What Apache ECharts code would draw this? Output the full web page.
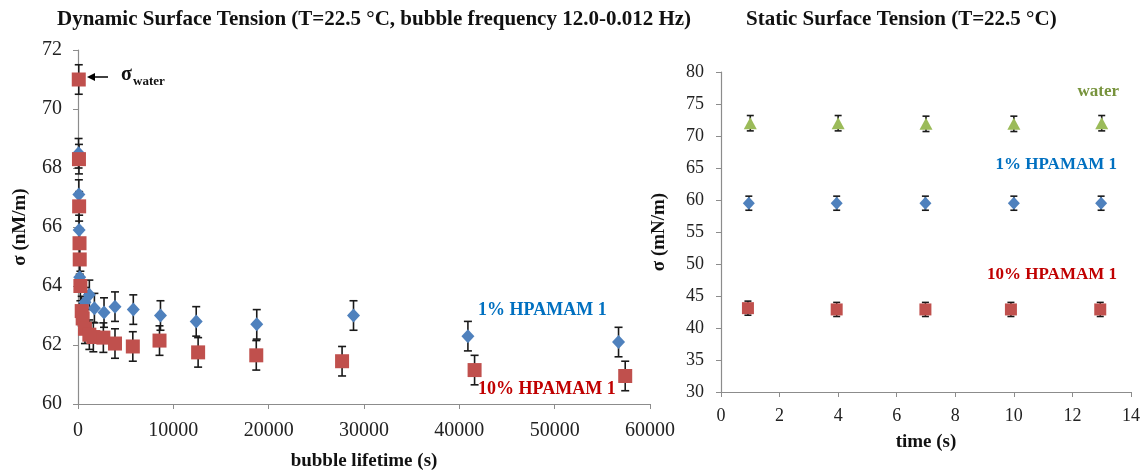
<!DOCTYPE html>
<html><head><meta charset="utf-8">
<script src="https://cdn.jsdelivr.net/npm/echarts@6/dist/echarts.min.js"></script>
<style>html,body{margin:0;padding:0;background:#fff}#c{width:1145px;height:472px}</style>
</head><body><div id="c"></div>
<script>
// Dynamic surface tension (left)
const dynXTicks = [0, 10000, 20000, 30000, 40000, 50000, 60000];
const dynYTicks = [60, 62, 64, 66, 68, 70, 72];
const hp1Lifetime = [60, 90, 120, 180, 730, 1190, 1720, 2730, 3880, 5800, 8650, 12400, 18750, 28900, 40900, 56700];
const hp1Sigma    = [68.5, 67.1, 65.9, 64.3, 63.45, 63.7, 63.25, 63.1, 63.3, 63.2, 63.0, 62.8, 62.7, 63.0, 62.3, 62.1];
const hp1Err      = [0.5, 0.5, 0.5, 0.5, 0.5, 0.5, 0.5, 0.5, 0.5, 0.5, 0.5, 0.5, 0.5, 0.5, 0.5, 0.5];
const hp10Lifetime = [80, 100, 120, 160, 180, 250, 390, 490, 730, 1190, 1610, 2660, 3880, 5750, 8550, 12600, 18700, 27700, 41600, 57400];
const hp10Sigma    = [71.0, 68.3, 66.7, 65.45, 64.9, 64.0, 63.15, 62.9, 62.55, 62.35, 62.27, 62.25, 62.05, 61.95, 62.15, 61.75, 61.65, 61.45, 61.15, 60.95];
const hp10Err      = [0.5, 0.5, 0.5, 0.5, 0.5, 0.5, 0.5, 0.5, 0.5, 0.5, 0.5, 0.5, 0.5, 0.5, 0.5, 0.5, 0.5, 0.5, 0.5, 0.5];

// Static surface tension (right)
const statXTicks = [0, 2, 4, 6, 8, 10, 12, 14];
const statYTicks = [30, 35, 40, 45, 50, 55, 60, 65, 70, 75, 80];
const waterTime = [1, 4, 7, 10, 13];
const waterSigma = [72.0, 72.0, 71.9, 71.9, 72.0];
const waterErr = [1.2, 1.2, 1.2, 1.2, 1.2];
const s1Time = [0.95, 3.95, 6.98, 10.0, 12.98];
const s1Sigma = [59.5, 59.5, 59.5, 59.5, 59.5];
const s1Err = [1.1, 1.1, 1.1, 1.1, 1.1];
const s10Time = [0.92, 3.95, 6.98, 9.9, 12.95];
const s10Sigma = [43.1, 42.9, 42.9, 42.9, 42.9];
const s10Err = [1.1, 1.1, 1.1, 1.1, 1.1];

const SERIF = '"Liberation Serif", "Times New Roman", serif';
const AXC = '#8c8c8c';

function rows(xs, ys, es) { return xs.map((x, i) => es ? [x, ys[i], es[i]] : [x, ys[i]]); }

function errRender(cap) {
  return function (params, api) {
    const x = api.value(0), y = api.value(1), e = api.value(2);
    const a = api.coord([x, y - e]), b = api.coord([x, y + e]);
    const st = { stroke: '#1a1a1a', lineWidth: 1.6 };
    return { type: 'group', children: [
      { type: 'line', shape: { x1: a[0], y1: a[1], x2: b[0], y2: b[1] }, style: st },
      { type: 'line', shape: { x1: a[0] - cap, y1: a[1], x2: a[0] + cap, y2: a[1] }, style: st },
      { type: 'line', shape: { x1: b[0] - cap, y1: b[1], x2: b[0] + cap, y2: b[1] }, style: st }
    ]};
  };
}

function axisCommon() {
  return {
    axisLine: { show: true, lineStyle: { color: AXC, width: 1.2 } },
    axisTick: { show: true, inside: false, length: 5, lineStyle: { color: AXC } },
    splitLine: { show: false },
    nameTextStyle: { color: '#111', fontFamily: SERIF, fontWeight: 'bold', fontSize: 19 }
  };
}

const chart = echarts.init(document.getElementById('c'), null, { renderer: 'canvas' });
const option = {
  animation: false,
  backgroundColor: '#fff',
  grid: [
    { left: 78, top: 50, width: 572, height: 354, outerBoundsMode: 'none', containLabel: false },
    { left: 721, top: 72, width: 410, height: 320, outerBoundsMode: 'none', containLabel: false }
  ],
  xAxis: [
    Object.assign(axisCommon(), { gridIndex: 0, type: 'value', min: dynXTicks[0], max: dynXTicks[dynXTicks.length - 1], interval: dynXTicks[1] - dynXTicks[0],
      name: 'bubble lifetime (s)', nameLocation: 'middle', nameGap: 48,
      axisLabel: { color: '#222', fontFamily: SERIF, fontSize: 20, margin: 17, formatter: v => String(v) } }),
    Object.assign(axisCommon(), { gridIndex: 1, type: 'value', min: statXTicks[0], max: statXTicks[statXTicks.length - 1], interval: statXTicks[1] - statXTicks[0],
      name: 'time (s)', nameLocation: 'middle', nameGap: 41,
      axisLabel: { color: '#222', fontFamily: SERIF, fontSize: 18, margin: 15, formatter: v => String(v) } })
  ],
  yAxis: [
    Object.assign(axisCommon(), { gridIndex: 0, type: 'value', min: dynYTicks[0], max: dynYTicks[dynYTicks.length - 1], interval: dynYTicks[1] - dynYTicks[0],
      name: 'σ (nM/m)', nameLocation: 'middle', nameGap: 48, nameRotate: 90,
      axisLabel: { color: '#222', fontFamily: SERIF, fontSize: 20, margin: 16 } }),
    Object.assign(axisCommon(), { gridIndex: 1, type: 'value', min: statYTicks[0], max: statYTicks[statYTicks.length - 1], interval: statYTicks[1] - statYTicks[0],
      name: 'σ (mN/m)', nameLocation: 'middle', nameGap: 52, nameRotate: 90,
      axisLabel: { color: '#222', fontFamily: SERIF, fontSize: 18, margin: 17 } })
  ],
  series: [
    { type: 'custom', xAxisIndex: 0, yAxisIndex: 0, renderItem: errRender(4), encode: { x: 0, y: 1 }, data: rows(hp1Lifetime, hp1Sigma, hp1Err), z: 2 },
    { type: 'custom', xAxisIndex: 0, yAxisIndex: 0, renderItem: errRender(4), encode: { x: 0, y: 1 }, data: rows(hp10Lifetime, hp10Sigma, hp10Err), z: 2 },
    { type: 'scatter', name: '1% HPAMAM 1', xAxisIndex: 0, yAxisIndex: 0, symbol: 'diamond', symbolSize: [13, 14], itemStyle: { color: '#4F81BD', opacity: 1 }, data: rows(hp1Lifetime, hp1Sigma), z: 3 },
    { type: 'scatter', name: '10% HPAMAM 1', xAxisIndex: 0, yAxisIndex: 0, symbol: 'rect', symbolSize: 14, itemStyle: { color: '#C0504D', opacity: 1 }, data: rows(hp10Lifetime, hp10Sigma), z: 4 },

    { type: 'custom', xAxisIndex: 1, yAxisIndex: 1, renderItem: errRender(3.5), encode: { x: 0, y: 1 }, data: rows(waterTime, waterSigma, waterErr), z: 2 },
    { type: 'custom', xAxisIndex: 1, yAxisIndex: 1, renderItem: errRender(3.5), encode: { x: 0, y: 1 }, data: rows(s1Time, s1Sigma, s1Err), z: 2 },
    { type: 'custom', xAxisIndex: 1, yAxisIndex: 1, renderItem: errRender(3.5), encode: { x: 0, y: 1 }, data: rows(s10Time, s10Sigma, s10Err), z: 2 },
    { type: 'scatter', name: 'water', xAxisIndex: 1, yAxisIndex: 1, symbol: 'triangle', symbolSize: [13, 12], itemStyle: { color: '#9BBB59', opacity: 1 }, data: rows(waterTime, waterSigma), z: 3 },
    { type: 'scatter', name: '1% static', xAxisIndex: 1, yAxisIndex: 1, symbol: 'diamond', symbolSize: [12, 13], itemStyle: { color: '#4F81BD', opacity: 1 }, data: rows(s1Time, s1Sigma), z: 3 },
    { type: 'scatter', name: '10% static', xAxisIndex: 1, yAxisIndex: 1, symbol: 'rect', symbolSize: 12, itemStyle: { color: '#C0504D', opacity: 1 }, data: rows(s10Time, s10Sigma), z: 3 }
  ],
  graphic: [
    { type: 'text', left: 57, top: 9, style: { text: 'Dynamic Surface Tension (T=22.5 °C, bubble frequency 12.0-0.012 Hz)', font: 'bold 21px ' + SERIF, fill: '#111' } },
    { type: 'text', left: 746, top: 9, style: { text: 'Static Surface Tension (T=22.5 °C)', font: 'bold 21px ' + SERIF, fill: '#111' } },
    // sigma water annotation
    { type: 'line', shape: { x1: 90, y1: 77, x2: 108, y2: 77 }, style: { stroke: '#000', lineWidth: 1.5 } },
    { type: 'polygon', shape: { points: [[87, 77], [95, 73], [95, 81]] }, style: { fill: '#000' } },
    { type: 'text', left: 121, top: 65, style: { text: 'σ', font: 'bold 20px ' + SERIF, fill: '#111' } },
    { type: 'text', left: 133, top: 75, style: { text: 'water', font: 'bold 13px ' + SERIF, fill: '#111' } },
    { type: 'text', left: 478, top: 301, style: { text: '1% HPAMAM 1', font: 'bold 18px ' + SERIF, fill: '#0070C0' } },
    { type: 'text', left: 478, top: 380, style: { text: '10% HPAMAM 1', font: 'bold 18px ' + SERIF, fill: '#C00000' } },
    { type: 'text', right: 26, top: 83, style: { text: 'water', font: 'bold 17px ' + SERIF, fill: '#77933C' } },
    { type: 'text', right: 28, top: 156, style: { text: '1% HPAMAM 1', font: 'bold 17px ' + SERIF, fill: '#0070C0' } },
    { type: 'text', right: 28, top: 266, style: { text: '10% HPAMAM 1', font: 'bold 17px ' + SERIF, fill: '#C00000' } }
  ]
};
chart.setOption(option);
</script>
</body></html>
